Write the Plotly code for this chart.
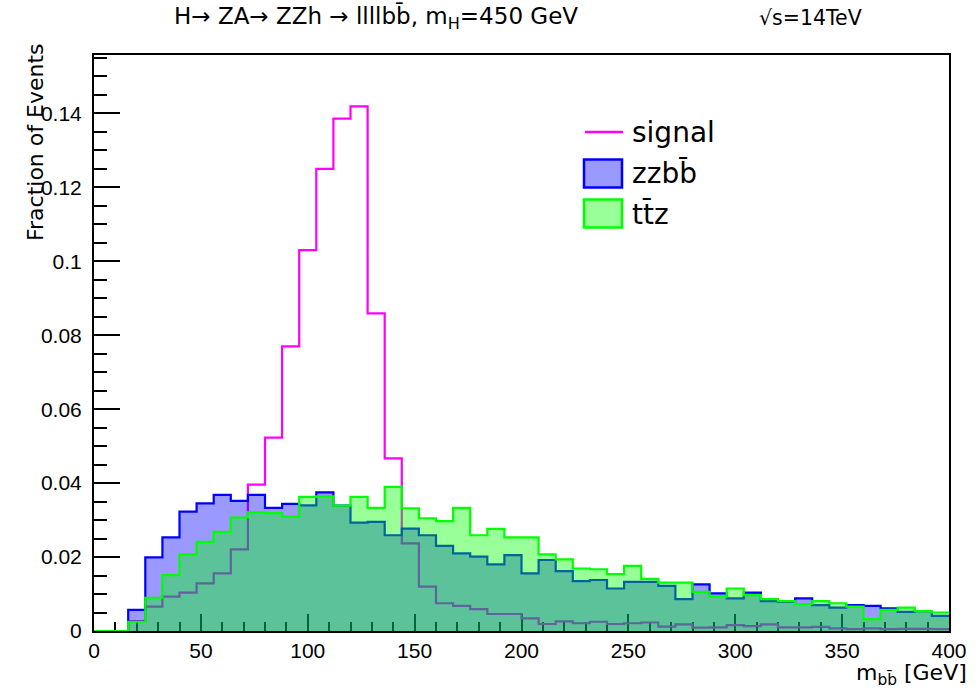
import numpy as np
import plotly.graph_objects as go

# 50 bins of 8 GeV between 0 and 400 GeV
bin_edges = np.linspace(0, 400, 51)

signal = [0, 0, 0.0027, 0.0066, 0.0093, 0.0104, 0.0129, 0.0156, 0.0221, 0.0396,
          0.0523, 0.077, 0.103, 0.125, 0.1386, 0.1419, 0.0859, 0.0467, 0.0237, 0.012,
          0.0075, 0.0068, 0.0059, 0.0046, 0.0046, 0.0034, 0.0019, 0.0026, 0.0021, 0.0025,
          0.0019, 0.0021, 0.0023, 0.0012, 0.0018, 0.0009, 0.001, 0.0016, 0.0013, 0.0018,
          0.001, 0.001, 0.0011, 0.0007, 0.0005, 0.0007, 0.0005, 0.0006, 0.0006, 0.0005]

zzbb = [0, 0, 0.0057, 0.0199, 0.0253, 0.0323, 0.0345, 0.0368, 0.0352, 0.0368,
        0.0333, 0.0344, 0.034, 0.0375, 0.0339, 0.0293, 0.0295, 0.0259, 0.0277, 0.0259,
        0.023, 0.021, 0.0201, 0.018, 0.0205, 0.0156, 0.0192, 0.0162, 0.0135, 0.0138,
        0.0115, 0.0133, 0.0133, 0.0122, 0.0086, 0.0126, 0.0102, 0.0088, 0.0104, 0.0081,
        0.0079, 0.0088, 0.007, 0.0063, 0.007, 0.0068, 0.0061, 0.0052, 0.0054, 0.0041]

ttz = [0, 0, 0.0025, 0.009, 0.0151, 0.0207, 0.0241, 0.0268, 0.0307, 0.0321,
       0.0319, 0.0309, 0.0363, 0.0364, 0.0339, 0.0363, 0.0333, 0.039, 0.0332, 0.0305,
       0.0297, 0.0333, 0.0259, 0.0276, 0.0253, 0.0253, 0.0207, 0.0194, 0.0169, 0.0167,
       0.0154, 0.0176, 0.0141, 0.0131, 0.0131, 0.0106, 0.0093, 0.0115, 0.0097, 0.0086,
       0.0081, 0.0073, 0.0081, 0.0075, 0.0066, 0.0032, 0.0057, 0.0063, 0.0054, 0.005]

series_names = ["signal", "zzbb\u0304", "tt\u0304z"]
line_colors = ["#ff00ff", "#0000ff", "#00ff00"]
fill_colors = [None, "rgba(0,0,255,0.4)", "rgba(0,255,0,0.4)"]

x_ticks = [0, 50, 100, 150, 200, 250, 300, 350, 400]
y_ticks = [0, 0.02, 0.04, 0.06, 0.08, 0.1, 0.12, 0.14]
y_tick_labels = ["0", "0.02", "0.04", "0.06", "0.08", "0.1", "0.12", "0.14"]

FONT = "Liberation Sans"
WIDE = "DejaVu Sans"

W, H = 980, 688
L, R, T, B = 94, 31, 55, 57
pw, ph = W - L - R, H - T - B


def px2paper(px, py):
    return (px - L) / pw, (H - B - py) / ph


def step_xy(values):
    return list(bin_edges), list(values) + [values[-1]]


fig = go.Figure()
for name, vals, lc, fc in zip(series_names, [signal, zzbb, ttz], line_colors, fill_colors):
    xs, ys = step_xy(vals)
    kw = dict(fill="tozeroy", fillcolor=fc) if fc else {}
    fig.add_trace(go.Scatter(x=xs, y=ys, mode="lines", line_shape="hv",
                             line=dict(color=lc, width=2.2), name=name,
                             showlegend=False, **kw))

annotations = []
shapes = []

# titles
x0, y0 = px2paper(172, 18)
annotations.append(dict(text="H\u2192 ZA\u2192 ZZh \u2192 llllbb\u0304, m<sub>H</sub>=450 GeV",
                        x=x0, y=y0, xref="paper", yref="paper", xanchor="left", yanchor="middle",
                        showarrow=False, font=dict(size=23, family=WIDE, color="black")))
x0, y0 = px2paper(757, 18)
annotations.append(dict(text="\u221as=14TeV", x=x0, y=y0, xref="paper", yref="paper",
                        xanchor="left", yanchor="middle", showarrow=False,
                        font=dict(size=20.5, family=WIDE, color="black")))
x0, y0 = px2paper(35, 41)
annotations.append(dict(text="Fraction of Events", textangle=-90, x=x0, y=y0,
                        xref="paper", yref="paper", xanchor="center", yanchor="top",
                        showarrow=False, font=dict(size=22, family=WIDE, color="black")))
x0, y0 = px2paper(968, 690)
annotations.append(dict(text="m<sub>bb\u0304</sub> [GeV]", x=x0, y=y0, xref="paper", yref="paper",
                        xanchor="right", yanchor="bottom", showarrow=False, borderpad=0,
                        font=dict(size=22, family=WIDE, color="black")))

# legend (drawn as layout items)
leg_rows = [132, 173.5, 213.5]
for i, (name, lc, fc) in enumerate(zip(series_names, line_colors, fill_colors)):
    yc = leg_rows[i]
    if fc is None:
        xa, ya = px2paper(585, yc)
        xb, _ = px2paper(623, yc)
        shapes.append(dict(type="line", xref="paper", yref="paper", x0=xa, x1=xb, y0=ya, y1=ya,
                           line=dict(color=lc, width=2.5)))
    else:
        xa, ya = px2paper(584, yc - 14)
        xb, yb = px2paper(622, yc + 14)
        shapes.append(dict(type="rect", xref="paper", yref="paper", x0=xa, x1=xb, y0=yb, y1=ya,
                           fillcolor=fc, line=dict(color=lc, width=2.5)))
    xt, yt = px2paper(630, yc)
    annotations.append(dict(text=name, x=xt, y=yt, xref="paper", yref="paper",
                            xanchor="left", yanchor="middle", showarrow=False,
                            font=dict(size=28, family=WIDE, color="black")))

fig.update_layout(
    width=W, height=H,
    margin=dict(l=L, r=R, t=T, b=B),
    paper_bgcolor="white", plot_bgcolor="white",
    font=dict(family=FONT, color="black"),
    showlegend=False,
    annotations=annotations,
    shapes=shapes,
)

fig.update_xaxes(range=[0, 400], tickvals=x_ticks, ticktext=[str(v) for v in x_ticks],
                 ticks="inside", ticklen=17, tickwidth=1.5, tickcolor="black",
                 minor=dict(dtick=10, ticks="inside", ticklen=9, tickwidth=1.5, tickcolor="black"),
                 showline=True, linecolor="black", linewidth=2, mirror=True,
                 showgrid=False, zeroline=False, layer="below traces",
                 tickfont=dict(size=21, family=FONT, color="black"))
fig.update_yaxes(range=[0, 0.1558], tickvals=y_ticks, ticktext=y_tick_labels,
                 ticks="inside", ticklen=26, tickwidth=1.5, tickcolor="black",
                 minor=dict(dtick=0.005, ticks="inside", ticklen=13, tickwidth=1.5, tickcolor="black"),
                 showline=True, linecolor="black", linewidth=2, mirror=True,
                 showgrid=False, zeroline=False, ticklabelstandoff=6,
                 tickfont=dict(size=21, family=FONT, color="black"))

fig.write_html("out.html")
